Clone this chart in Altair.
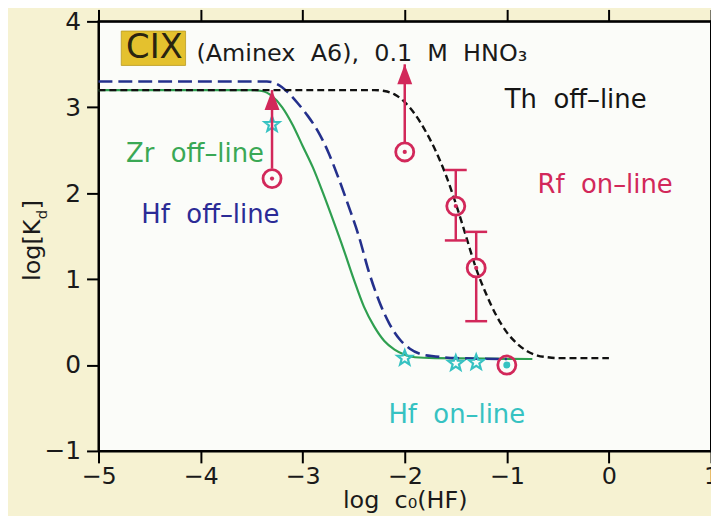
import altair as alt
import pandas as pd

# ---------------- data ----------------
x_ticks = [-5, -4, -3, -2, -1, 0, 1]
y_ticks = [-1, 0, 1, 2, 3, 4]

# Zr off-line (green solid)
zr_x = [-5.0, -3.5, -3.4, -3.3, -3.2, -3.1, -3.0, -2.9, -2.8, -2.7, -2.6, -2.5,
        -2.4, -2.3, -2.2, -2.1, -2.0, -1.9, -1.7, -0.75]
zr_y = [3.2, 3.2, 3.19, 3.13, 3.0, 2.8, 2.55, 2.3, 2.0, 1.68, 1.35, 1.0,
        0.68, 0.45, 0.28, 0.18, 0.12, 0.09, 0.08, 0.07]

# Hf off-line (blue long dashes)
hf_x = [-5.0, -3.35, -3.25, -3.15, -3.05, -2.95, -2.85, -2.75, -2.65, -2.55,
        -2.45, -2.35, -2.25, -2.15, -2.05, -1.95, -1.85, -1.7, -1.5, -1.0]
hf_y = [3.3, 3.3, 3.27, 3.18, 3.05, 2.9, 2.72, 2.48, 2.18, 1.85,
        1.5, 1.08, 0.74, 0.48, 0.3, 0.19, 0.13, 0.1, 0.08, 0.07]

# Th off-line (black short dashes)
th_x = [-5.0, -2.3, -2.2, -2.1, -2.0, -1.9, -1.8, -1.7, -1.6, -1.5, -1.4, -1.3,
        -1.2, -1.1, -1.0, -0.9, -0.8, -0.7, -0.6, -0.5, 0.0]
th_y = [3.2, 3.2, 3.19, 3.15, 3.06, 2.92, 2.73, 2.5, 2.22, 1.88, 1.5, 1.12,
        0.82, 0.57, 0.38, 0.25, 0.16, 0.11, 0.09, 0.08, 0.08]

# Rf on-line (crimson circles)
rf_x = [-3.3, -2.0, -1.5, -1.3, -1.0]
rf_y = [2.17, 2.48, 1.85, 1.13, 0.0]
rf_err_x = [-1.5, -1.3]
rf_err_y = [1.85, 1.13]
rf_err_lo = [1.45, 0.51]
rf_err_hi = [2.27, 1.55]
rf_arrow_x = [-3.3, -2.0]
rf_arrow_from = [2.17, 2.48]
rf_arrow_to = [3.2, 3.5]

# Hf on-line (cyan stars)
hfon_x = [-3.3, -2.0, -1.5, -1.3]
hfon_y = [2.8, 0.08, 0.02, 0.03]
hfon_dot_x = [-1.0]
hfon_dot_y = [0.0]

# annotations (NBSP keeps the wide word gaps of the original)
NB = "\u00a0"
label_text = ["Zr " + NB + "off–line", "Hf " + NB + "off–line", "Th " + NB + "off–line",
              "Rf " + NB + "on–line", "Hf " + NB + "on–line"]
label_x = [-4.73, -4.58, -1.02, -0.70, -2.16]
label_y = [2.46, 1.74, 3.08, 2.10, -0.58]
label_color = ["#3aa855", "#2b2b96", "#151515", "#d2285a", "#36c2c2"]

head_text = ["CIX"]
head_x = [-4.73]
head_y = [3.69]
head_box_x1 = [-4.777]
head_box_x2 = [-4.147]
head_box_y1 = [3.487]
head_box_y2 = [3.887]
sub_text = ["(Aminex " + NB + "A6), " + NB + "0.1 " + NB + "M " + NB + "HNO₃"]
sub_x = [-4.04]
sub_y = [3.62]

# ---------------- styling ----------------
FONT = "DejaVu Sans"
CRIMSON = "#d2285a"
CYAN = "#36c2c2"
PLOT_BG = "#fbfcf9"
STAR = ("M0,-1L0.247,-0.34L0.951,-0.309L0.399,0.13L0.588,0.809L0,0.42"
        "L-0.588,0.809L-0.399,0.13L-0.951,-0.309L-0.247,-0.34Z")
TRI = "M0,-1L0.75,1L-0.75,1Z"

xs = alt.Scale(domain=[-5, 1], nice=False, zero=False)
ys = alt.Scale(domain=[-1, 4], nice=False, zero=False)

axis_bottom = alt.Axis(orient="bottom", values=x_ticks, format="d",
                       title="log " + NB + "c₀(HF)", titleFontSize=24, titleY=57,
                       titleBaseline="alphabetic", labelPadding=2, labelFontSize=24,
                       labelFlush=False, labelOverlap=False)
axis_left = alt.Axis(orient="left", values=y_ticks, format="d", title=None,
                     labelPadding=6, labelOverlap=False)
axis_top = alt.Axis(orient="top", values=x_ticks, labels=False, title=None)
axis_right = alt.Axis(orient="right", values=y_ticks, labels=False, title=None)


def ex(f, axis=None):
    return alt.X(f, type="quantitative", scale=xs, axis=axis)


def ey(f, axis=None):
    return alt.Y(f, type="quantitative", scale=ys, axis=axis)


zr_df = pd.DataFrame({"x": zr_x, "y": zr_y})
hf_df = pd.DataFrame({"x": hf_x, "y": hf_y})
th_df = pd.DataFrame({"x": th_x, "y": th_y})
rf_df = pd.DataFrame({"x": rf_x, "y": rf_y})
err_df = pd.DataFrame({"x": rf_err_x, "y": rf_err_y, "lo": rf_err_lo, "hi": rf_err_hi})
arr_df = pd.DataFrame({"x": rf_arrow_x, "y": rf_arrow_from, "to": rf_arrow_to})
star_df = pd.DataFrame({"x": hfon_x, "y": hfon_y})
dot_df = pd.DataFrame({"x": hfon_dot_x, "y": hfon_dot_y})
lab_df = pd.DataFrame({"t": label_text, "x": label_x, "y": label_y, "c": label_color})
head_df = pd.DataFrame({"t": head_text, "x": head_x, "y": head_y,
                        "x1": head_box_x1, "x2": head_box_x2,
                        "y1": head_box_y1, "y2": head_box_y2})
sub_df = pd.DataFrame({"t": sub_text, "x": sub_x, "y": sub_y})

green = alt.Chart(zr_df).mark_line(color="#2f9f50", strokeWidth=2.2, interpolate="monotone").encode(
    x=ex("x", axis_bottom), y=ey("y", axis_left))
blue = alt.Chart(hf_df).mark_line(color="#24308c", strokeWidth=2.6, strokeDash=[14, 6],
                                  interpolate="monotone").encode(x=ex("x"), y=ey("y"))
black = alt.Chart(th_df).mark_line(color="#111111", strokeWidth=2.4, strokeDash=[7, 4],
                                   interpolate="monotone").encode(x=ex("x"), y=ey("y"))
frame = alt.Chart(th_df).mark_point(opacity=0).encode(x=ex("x", axis_top), y=ey("y", axis_right))

stars = alt.Chart(star_df).mark_point(shape=STAR, filled=False, color=CYAN, size=250,
                                      strokeWidth=2.2, opacity=1).encode(x=ex("x"), y=ey("y"))
cdot = alt.Chart(dot_df).mark_point(shape="circle", filled=True, color=CYAN, size=50,
                                    opacity=1).encode(x=ex("x"), y=ey("y"))

err_up = alt.Chart(err_df).mark_rule(color=CRIMSON, strokeWidth=2.5, y2Offset=-10).encode(
    x=ex("x"), y=ey("hi"), y2="y")
err_dn = alt.Chart(err_df).mark_rule(color=CRIMSON, strokeWidth=2.5, y2Offset=10).encode(
    x=ex("x"), y=ey("lo"), y2="y")
cap_hi = alt.Chart(err_df).mark_tick(orient="horizontal", size=22, thickness=2.5, color=CRIMSON,
                                     opacity=1).encode(x=ex("x"), y=ey("hi"))
cap_lo = alt.Chart(err_df).mark_tick(orient="horizontal", size=22, thickness=2.5, color=CRIMSON,
                                     opacity=1).encode(x=ex("x"), y=ey("lo"))
shaft = alt.Chart(arr_df).mark_rule(color=CRIMSON, strokeWidth=2.5, y2Offset=-10).encode(
    x=ex("x"), y=ey("to"), y2="y")
head = alt.Chart(arr_df).mark_point(shape=TRI, filled=True, color=CRIMSON, size=400, opacity=1,
                                    yOffset=10).encode(x=ex("x"), y=ey("to"))
rf_circ = alt.Chart(rf_df).mark_point(shape="circle", filled=False, color=CRIMSON, size=330,
                                      strokeWidth=2.8, opacity=1).encode(x=ex("x"), y=ey("y"))
rf_dot = alt.Chart(rf_df.iloc[:4]).mark_point(shape="circle", filled=True, color=CRIMSON, size=18,
                                             opacity=1).encode(x=ex("x"), y=ey("y"))

labels = alt.Chart(lab_df).mark_text(align="left", baseline="middle", font=FONT, fontSize=26).encode(
    x=ex("x"), y=ey("y"), text="t:N", color=alt.Color("c:N", scale=None))
box = alt.Chart(head_df).mark_rect(color="#e4c12e", stroke="#b99b22", strokeWidth=0.8).encode(
    x=ex("x1"), x2="x2", y=ey("y1"), y2="y2")
cix = alt.Chart(head_df).mark_text(align="left", baseline="middle", font=FONT, fontSize=34,
                                   color="#2a2410").encode(x=ex("x"), y=ey("y"), text="t:N")
sub = alt.Chart(sub_df).mark_text(align="left", baseline="middle", font=FONT, fontSize=24,
                                  color="#1a1a1a").encode(x=ex("x"), y=ey("y"), text="t:N")

# y-axis title "log[K_d]" with subscript, rotated
yt1 = alt.Chart(pd.DataFrame({"t": ["log[K"]})).mark_text(
    align="left", baseline="alphabetic", angle=270, font=FONT, fontSize=24, color="#1a1a1a").encode(
    x=alt.value(-59), y=alt.value(261), text="t:N")
yt2 = alt.Chart(pd.DataFrame({"t": ["d"]})).mark_text(
    align="left", baseline="alphabetic", angle=270, font=FONT, fontSize=15, color="#1a1a1a").encode(
    x=alt.value(-52), y=alt.value(199), text="t:N")
yt3 = alt.Chart(pd.DataFrame({"t": ["]"]})).mark_text(
    align="left", baseline="alphabetic", angle=270, font=FONT, fontSize=24, color="#1a1a1a").encode(
    x=alt.value(-59), y=alt.value(189), text="t:N")

chart = alt.layer(
    green, blue, black, frame, stars, cdot, err_up, err_dn, cap_hi, cap_lo, shaft, head,
    rf_circ, rf_dot, box, cix, sub, labels, yt1, yt2, yt3
).resolve_axis(x="independent", y="independent").properties(
    width=616, height=432,
    autosize=alt.AutoSizeParams(type="none"),
    padding={"left": 91, "top": 12, "right": 0, "bottom": 64},
    background="#f6f2d2",
).configure_axis(
    grid=False, domainColor="black", domainWidth=2, tickColor="black", tickWidth=2,
    tickSize=12, labelFont=FONT, labelFontSize=25, labelColor="#1a1a1a",
    titleFont=FONT, titleFontWeight="normal", titleColor="#1a1a1a",
).configure_view(stroke="black", strokeWidth=2, fill=PLOT_BG)

chart.save("out.html", embed_options={"renderer": "svg", "actions": False})
